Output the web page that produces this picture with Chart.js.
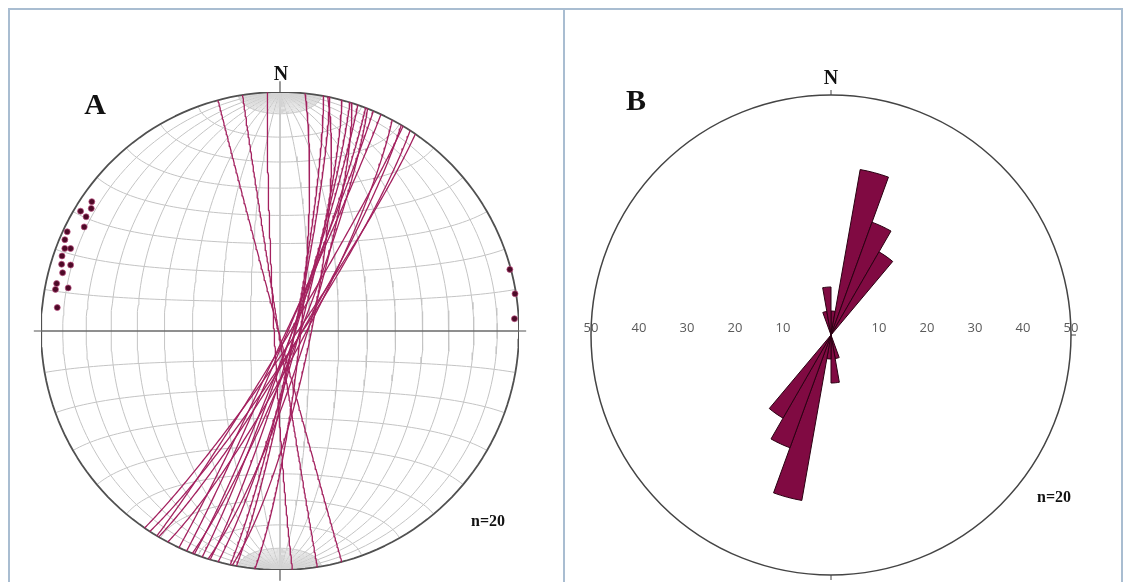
<!DOCTYPE html>
<html>
<head>
<meta charset="utf-8">
<script src="https://cdn.jsdelivr.net/npm/chart.js@4"></script>
<style>
html,body{margin:0;padding:0;background:#fff;overflow:hidden;}
#page{position:relative;width:1127px;height:582px;overflow:hidden;}
.frame{position:absolute;left:8px;top:8px;width:1111px;height:600px;border:2px solid #a9bdd1;}
.divider{position:absolute;left:563px;top:8px;width:2px;height:580px;background:#a9bdd1;}
.box{position:absolute;width:500px;height:500px;}
.lbl{position:absolute;transform:translate(-50%,-50%);font-family:"Liberation Serif","Times New Roman",serif;font-weight:bold;color:#111;white-space:nowrap;}
</style>
</head>
<body>
<div id="page">
<div class="frame"></div>
<div class="divider"></div>
<div class="box" style="left:30px;top:81px"><canvas id="netChart"></canvas></div>
<div class="box" style="left:581px;top:85px"><canvas id="roseChart"></canvas></div>
<div class="lbl" style="left:95px;top:104px;font-size:30px">A</div>
<div class="lbl" style="left:281px;top:73px;font-size:20px">N</div>
<div class="lbl" style="left:488px;top:521px;font-size:16px">n=20</div>
<div class="lbl" style="left:636px;top:100px;font-size:30px">B</div>
<div class="lbl" style="left:831px;top:77px;font-size:20px">N</div>
<div class="lbl" style="left:1054px;top:497px;font-size:16px">n=20</div>
</div>
<script>
// planes (right hand rule strike, dip)
const strikes=[34.5,33,31,30.5,28,25,23,21.5,21,19,17.5,17,15,12,11.5,10.5,6,165,171,177];
const dips=[85,83.5,87,83.5,82,88,87.5,83.5,86,86,81,85,83.5,85,79.5,85,83,89.5,89.5,88];

// rose diagram, 10 degree bins clockwise from N, percent
const roseBins=["0","10","20","30","40","50","60","70","80","90","100","110","120","130","140","150","160","170",
"180","190","200","210","220","230","240","250","260","270","280","290","300","310","320","330","340","350"];
const rosePercent=[5,35,25,20,0,0,0,0,0,0,0,0,0,0,0,0,5,10,
5,35,25,20,0,0,0,0,0,0,0,0,0,0,0,0,5,10];
const roseTicks=[10,20,30,40,50];

const rad=Math.PI/180;
const lineCol="#a3215f";
const gridCol="#c4c4c4";

// equal area (Schmidt) projection, lower hemisphere; v = [north, east, down]
function proj(v){
  const k=1/Math.sqrt(1+v[2]);
  return {x:v[1]*k,y:v[0]*k};
}
function greatCircle(strike,dip,t0,t1,step){
  const dd=strike+90;
  const S=[Math.cos(strike*rad),Math.sin(strike*rad),0];
  const D=[Math.cos(dip*rad)*Math.cos(dd*rad),Math.cos(dip*rad)*Math.sin(dd*rad),Math.sin(dip*rad)];
  const pts=[];
  for(let t=t0;t<=t1+1e-9;t+=step){
    const c=Math.cos(t*rad),s=Math.sin(t*rad);
    pts.push(proj([c*S[0]+s*D[0],c*S[1]+s*D[1],Math.max(0,c*S[2]+s*D[2])]));
  }
  return pts;
}
function smallCircle(a){
  const pts=[];
  for(let t=0;t<=180;t+=2){
    pts.push(proj([Math.cos(a*rad),Math.sin(a*rad)*Math.cos(t*rad),Math.sin(a*rad)*Math.sin(t*rad)]));
  }
  return pts;
}
function joined(list){
  const out=[];
  list.forEach((p,i)=>{if(i)out.push({x:null,y:null});out.push(...p);});
  return out;
}
function pole(strike,dip){
  const tr=(strike+270)*rad,pl=(90-dip)*rad;
  return proj([Math.cos(pl)*Math.cos(tr),Math.cos(pl)*Math.sin(tr),Math.sin(pl)]);
}

// net grid
const meridians=[],fine=[],smalls=[];
for(let d=10;d<=80;d+=10){meridians.push(greatCircle(0,d,0,180,2));meridians.push(greatCircle(180,d,0,180,2));}
meridians.push(greatCircle(0,90,0,180,10));
for(let d=2;d<90;d+=2){
  if(d%10===0)continue;
  [0,180].forEach(s=>{fine.push(greatCircle(s,d,0,10,1));fine.push(greatCircle(s,d,170,180,1));});
}
for(let a=10;a<180;a+=10){if(a!==90)smalls.push(smallCircle(a));}
const primitive=[];
for(let a=0;a<=360;a+=2)primitive.push(proj([Math.cos(a*rad),Math.sin(a*rad),0]));

const netSets=[];
netSets.push({data:strikes.map((s,i)=>pole(s,dips[i])),showLine:false,pointRadius:3,
  backgroundColor:"#4d0a27",borderColor:"rgba(190,80,130,0.7)",borderWidth:1});
strikes.forEach((s,i)=>{
  netSets.push({data:greatCircle(s,dips[i],0,180,1),showLine:true,pointRadius:0,borderColor:lineCol,borderWidth:1.3});
});
netSets.push({data:greatCircle(90,90,0,180,10),showLine:true,pointRadius:0,borderColor:"#6a6a6a",borderWidth:1.4});
netSets.push({data:primitive,showLine:true,pointRadius:0,borderColor:"#505050",borderWidth:1.8});
netSets.push({data:joined(fine),showLine:true,pointRadius:0,borderColor:"#d4d4d4",borderWidth:0.8,spanGaps:false});
netSets.push({data:joined(meridians),showLine:true,pointRadius:0,borderColor:gridCol,borderWidth:1,spanGaps:false});
netSets.push({data:joined(smalls),showLine:true,pointRadius:0,borderColor:gridCol,borderWidth:1,spanGaps:false});

const netTicks={id:"netTicks",afterDatasetsDraw(chart){
  const x=chart.scales.x,y=chart.scales.y,c=chart.ctx;
  c.save();c.strokeStyle="#555";c.lineWidth=1.2;c.beginPath();
  c.moveTo(x.getPixelForValue(0),y.getPixelForValue(1));c.lineTo(x.getPixelForValue(0),y.getPixelForValue(1.045));
  c.moveTo(x.getPixelForValue(0),y.getPixelForValue(-1));c.lineTo(x.getPixelForValue(0),y.getPixelForValue(-1.045));
  c.moveTo(x.getPixelForValue(-1),y.getPixelForValue(0));c.lineTo(x.getPixelForValue(-1.03),y.getPixelForValue(0));
  c.moveTo(x.getPixelForValue(1),y.getPixelForValue(0));c.lineTo(x.getPixelForValue(1.03),y.getPixelForValue(0));
  c.stroke();c.restore();
}};

new Chart(document.getElementById("netChart"),{
  type:"scatter",
  data:{datasets:netSets},
  options:{
    responsive:true,maintainAspectRatio:false,animation:false,events:[],
    layout:{padding:11},
    elements:{line:{tension:0,borderJoinStyle:"round"}},
    plugins:{legend:{display:false},tooltip:{enabled:false}},
    scales:{
      x:{type:"linear",min:-1,max:1,display:false},
      y:{type:"linear",min:-1,max:1,display:false}
    }
  },
  plugins:[netTicks]
});

const roseDecor={id:"roseDecor",afterDraw(chart){
  const s=chart.scales.r,c=chart.ctx,R=s.drawingArea;
  c.save();
  c.font='13px "Open Sans"';c.fillStyle="#5a5a5a";c.textAlign="center";c.textBaseline="middle";
  roseTicks.forEach(v=>{
    const d=s.getDistanceFromCenterForValue(v);
    c.fillText(v,s.xCenter-d,s.yCenter-7);
    c.fillText(v,s.xCenter+d,s.yCenter-7);
  });
  c.strokeStyle="#444";c.lineWidth=1;c.beginPath();
  c.moveTo(s.xCenter,s.yCenter-R);c.lineTo(s.xCenter,s.yCenter-R-5);
  c.moveTo(s.xCenter,s.yCenter+R);c.lineTo(s.xCenter,s.yCenter+R+5);
  c.moveTo(s.xCenter+R,s.yCenter);c.lineTo(s.xCenter+R+5,s.yCenter);
  c.stroke();c.restore();
}};

new Chart(document.getElementById("roseChart"),{
  type:"polarArea",
  data:{labels:roseBins,datasets:[{data:rosePercent,backgroundColor:"#800a42",borderColor:"#2a0012",borderWidth:1}]},
  options:{
    responsive:true,maintainAspectRatio:false,animation:false,events:[],
    layout:{padding:10},
    plugins:{legend:{display:false},tooltip:{enabled:false}},
    scales:{r:{
      min:0,max:50,
      ticks:{display:false,stepSize:10},
      pointLabels:{display:false},
      angleLines:{display:false},
      grid:{circular:true,lineWidth:1.5,color:c=>c.tick&&c.tick.value===50?"#444":"rgba(0,0,0,0)"}
    }}
  },
  plugins:[roseDecor]
});
</script>
</body>
</html>
